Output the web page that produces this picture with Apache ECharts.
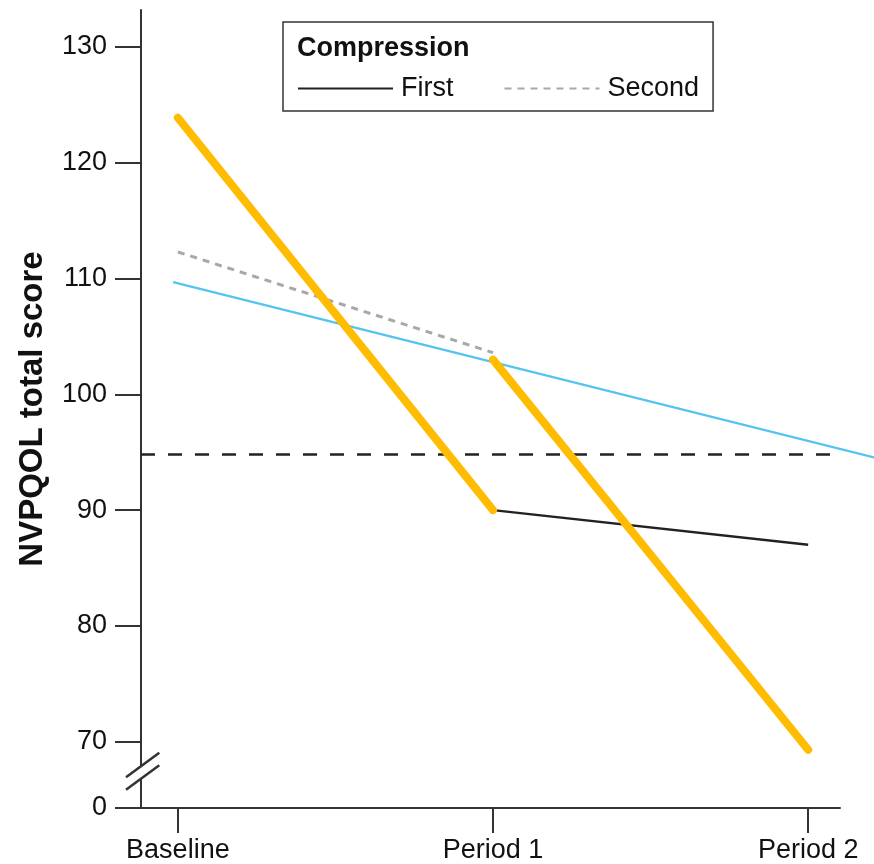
<!DOCTYPE html>
<html><head><meta charset="utf-8">
<script src="https://cdn.jsdelivr.net/npm/echarts@6/dist/echarts.min.js"></script>
<style>html,body{margin:0;padding:0;background:#fff}#c{width:874px;height:864px}</style>
</head><body><div id="c"></div>
<script>
// ---- data ----
const categories = ['Baseline', 'Period 1', 'Period 2'];
const categoryPositions = [0, 1, 2];
const yTickValues = [70, 80, 90, 100, 110, 120, 130];
const yBreakValue = 64.27;      // axis position that stands for 0 below the break
const yBreakLabel = '0';
const yBreakMarkValue = 67.34;  // where the "//" break symbol sits
const yMax = 133.2;
const xMin = -0.117, xMax = 2.101;   // visible x axis
const xMaxWide = 2.209;              // extended range (to the page edge) for the trend line

const firstX = [1, 2];            const firstY = [90.0, 87.0];
const secondX = [0, 1];           const secondY = [112.3, 103.6];
const orange1X = [0, 1];          const orange1Y = [123.9, 90.0];
const orange2X = [1, 2];          const orange2Y = [103.0, 69.3];
const blueX = [-0.015, 2.209];    const blueY = [109.7, 94.55];
const referenceLevel = 94.8;

// ---- chart ----
const FONT = '"Liberation Sans", Arial, sans-serif';
const pts = (xs, ys) => xs.map((x, i) => [x, ys[i]]);
const chart = echarts.init(document.getElementById('c'), null, {renderer: 'canvas'});

const option = {
  animation: false,
  backgroundColor: '#ffffff',
  textStyle: {fontFamily: FONT},
  grid: [
    {left: 141, right: 34, top: 10, bottom: 56},
    {left: 141, right: 0, top: 10, bottom: 56}
  ],
  title: {
    text: 'Compression', left: 297, top: 35, padding: 0,
    textStyle: {fontFamily: FONT, fontSize: 27, fontWeight: 'bold', color: '#111'}
  },
  legend: {
    data: ['First', 'Second'],
    left: 283, top: 22,
    padding: [53, 14, 9, 14],
    borderColor: '#333', borderWidth: 1.5,
    itemWidth: 95, itemHeight: 14, itemGap: 50,
    selectedMode: false,
    itemStyle: {opacity: 0},
    textStyle: {fontFamily: FONT, fontSize: 27, color: '#111', padding: [0, 0, 0, 3]}
  },
  xAxis: [{
    type: 'value', min: xMin, max: xMax, gridIndex: 0,
    splitLine: {show: false},
    axisLine: {show: true, onZero: false, lineStyle: {color: '#333', width: 2}},
    axisTick: {show: true, customValues: categoryPositions, length: 25, lineStyle: {color: '#333', width: 2}},
    axisLabel: {
      customValues: categoryPositions, margin: 29,
      fontFamily: FONT, fontSize: 27, color: '#111',
      formatter: v => categories[Math.round(v)]
    }
  }, {
    type: 'value', min: xMin, max: xMaxWide, gridIndex: 1, show: false
  }],
  yAxis: [{
    type: 'value', min: yBreakValue, max: yMax, gridIndex: 0,
    name: 'NVPQOL total score', nameLocation: 'middle', nameGap: 92,
    nameTextStyle: {fontFamily: FONT, fontSize: 33, fontWeight: 'bold', color: '#111'},
    splitLine: {show: false},
    axisLine: {show: true, onZero: false, lineStyle: {color: '#333', width: 2}},
    axisTick: {show: true, customValues: [yBreakValue].concat(yTickValues), length: 26, lineStyle: {color: '#333', width: 2}},
    axisLabel: {
      customValues: [yBreakValue].concat(yTickValues), margin: 34,
      fontFamily: FONT, fontSize: 27, color: '#111',
      formatter: v => (Math.abs(v - yBreakValue) < 1e-6 ? yBreakLabel : String(v))
    }
  }, {
    type: 'value', min: yBreakValue, max: yMax, gridIndex: 1, show: false
  }],
  series: [
    {
      name: 'Trend', type: 'line', data: pts(blueX, blueY),
      xAxisIndex: 1, yAxisIndex: 1, clip: false,
      symbol: 'none', silent: true,
      lineStyle: {color: '#55C3EE', width: 2.2},
      z: 2
    },
    {
      name: 'Reference', type: 'line', data: [],
      markLine: {
        silent: true, symbol: ['none', 'none'], label: {show: false},
        lineStyle: {color: '#222', width: 2.5, type: [14, 13]},
        data: [{yAxis: referenceLevel}]
      },
      z: 2
    },
    {
      name: 'Second', type: 'line', data: pts(secondX, secondY),
      symbol: 'none', silent: true,
      lineStyle: {color: '#A8A8A8', width: 3, type: [7, 6]},
      itemStyle: {color: '#A8A8A8'}, z: 3
    },
    {
      name: 'First', type: 'line', data: pts(firstX, firstY),
      symbol: 'none', silent: true,
      lineStyle: {color: '#222', width: 2.5},
      itemStyle: {color: '#222'}, z: 3
    },
    {
      name: 'Orange A', type: 'line', data: pts(orange1X, orange1Y),
      symbol: 'none', silent: true,
      lineStyle: {color: '#FFBC00', width: 8, cap: 'round'}, z: 5
    },
    {
      name: 'Orange B', type: 'line', data: pts(orange2X, orange2Y),
      symbol: 'none', silent: true,
      lineStyle: {color: '#FFBC00', width: 8, cap: 'round'}, z: 5
    }
  ]
};
chart.setOption(option);

// axis break symbol "//"
const bx = chart.convertToPixel({xAxisIndex: 0}, xMin);
const by = chart.convertToPixel({yAxisIndex: 0}, yBreakMarkValue);
const slash = (cy) => ({
  type: 'line', z: 101,
  shape: {x1: bx - 15, y1: cy + 11.1, x2: bx + 18.3, y2: cy - 13.5},
  style: {stroke: '#333', lineWidth: 2.5}
});
chart.setOption({
  graphic: [
    {type: 'rect', z: 100, shape: {x: bx - 3, y: by - 5.5, width: 6, height: 11}, style: {fill: '#fff'}},
    slash(by - 6.3),
    slash(by + 6.3)
  ]
});
</script>
</body></html>
